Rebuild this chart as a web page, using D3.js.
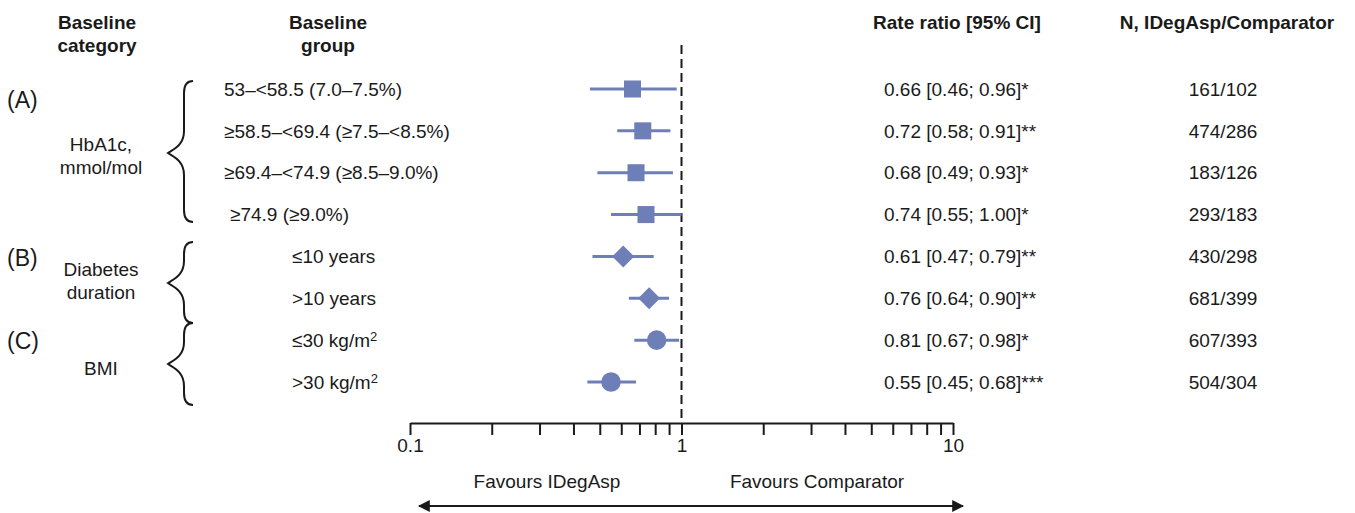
<!DOCTYPE html>
<html>
<head>
<meta charset="utf-8">
<script src="https://cdn.jsdelivr.net/npm/d3@7"></script>
<style>
  body { margin: 0; background: #fff; }
  svg { font-family: "Liberation Sans", Arial, sans-serif; }
</style>
</head>
<body>
<svg id="chart" width="1355" height="513"></svg>
<script>
// ---- data ----
const groupLabels = [
  '53–<58.5 (7.0–7.5%)',
  '≥58.5–<69.4 (≥7.5–<8.5%)',
  '≥69.4–<74.9 (≥8.5–9.0%)',
  '≥74.9 (≥9.0%)',
  '≤10 years',
  '>10 years',
  '≤30 kg/m|2',
  '>30 kg/m|2',
];
const rateRatios = [0.66, 0.72, 0.68, 0.74, 0.61, 0.76, 0.81, 0.55];
const ciLower = [0.46, 0.58, 0.49, 0.55, 0.47, 0.64, 0.67, 0.45];
const ciUpper = [0.96, 0.91, 0.93, 1.00, 0.79, 0.90, 0.98, 0.68];
const stars = ['*', '**', '*', '*', '**', '**', '*', '***'];
const nCounts = ['161/102', '474/286', '183/126', '293/183', '430/298', '681/399', '607/393', '504/304'];
const markerShapes = ['square', 'square', 'square', 'square', 'diamond', 'diamond', 'circle', 'circle'];

const categories = [
  { tag: '(A)', label: ['HbA1c,', 'mmol/mol'], rows: [0, 3] },
  { tag: '(B)', label: ['Diabetes', 'duration'], rows: [4, 5] },
  { tag: '(C)', label: ['BMI'], rows: [6, 7] },
];
const tickValues = [0.1, 1, 10];

// ---- layout ----
const svg = d3.select('#chart');
const color = '#6e7fb8';
const ink = '#1a1a1a';
const fontSize = 19;

const x = d3.scaleLog().domain([0.1, 10]).range([410, 953]);
const y = d3.scaleLinear().domain([0, 7]).range([89, 382]);
const axisY = 423;

// headers
const headers = [
  { x: 97, lines: ['Baseline', 'category'] },
  { x: 328, lines: ['Baseline', 'group'] },
  { x: 957, lines: ['Rate ratio [95% CI]'] },
  { x: 1227, lines: ['N, IDegAsp/Comparator'] },
];
headers.forEach((h) => {
  h.lines.forEach((line, i) => {
    svg.append('text')
      .attr('x', h.x)
      .attr('y', 29 + i * 23)
      .attr('text-anchor', 'middle')
      .attr('font-weight', 'bold')
      .attr('font-size', 19)
      .attr('fill', ink)
      .text(line);
  });
});

// category tags, labels and braces
const braceSpans = [[81, 222, 153], [242, 323, 283], [323, 405, 364]];
const labelCenters = [156, 281, 368];
const tagCenters = [100, 258, 341];
categories.forEach((c, ci) => {
  svg.append('text')
    .attr('x', 7)
    .attr('y', tagCenters[ci])
    .attr('dy', '0.35em')
    .attr('font-size', 23)
    .attr('fill', ink)
    .text(c.tag);

  const labelY = labelCenters[ci] - (c.label.length - 1) * 11.5;
  c.label.forEach((l, i) => {
    svg.append('text')
      .attr('x', 101)
      .attr('y', labelY + i * 23)
      .attr('dy', '0.35em')
      .attr('text-anchor', 'middle')
      .attr('font-size', fontSize)
      .attr('fill', ink)
      .text(l);
  });

  // curly brace
  const [t, b, m] = braceSpans[ci];
  const xr = 193;
  const xm = 184;
  const xl = 168;
  const p = d3.path();
  p.moveTo(xr, t);
  p.quadraticCurveTo(xm, t, xm, t + 12);
  p.lineTo(xm, m - 22);
  p.bezierCurveTo(xm, m - 8, xl + 6, m - 4, xl, m);
  p.bezierCurveTo(xl + 6, m + 4, xm, m + 8, xm, m + 22);
  p.lineTo(xm, b - 12);
  p.quadraticCurveTo(xm, b, xr, b);
  svg.append('path')
    .attr('d', p.toString())
    .attr('fill', 'none')
    .attr('stroke', ink)
    .attr('stroke-width', 2);
});

// group labels
const labelX = (i) => (i < 3 ? 224 : i === 3 ? 230 : 292);
groupLabels.forEach((g, i) => {
  const parts = g.split('|');
  const t = svg.append('text')
    .attr('x', labelX(i))
    .attr('y', y(i))
    .attr('dy', '0.35em')
    .attr('font-size', fontSize)
    .attr('fill', ink);
  t.append('tspan').text(parts[0]);
  if (parts[1]) {
    t.append('tspan').attr('font-size', 13).attr('dy', '-0.45em').text(parts[1]);
  }
});

// reference line at 1
svg.append('line')
  .attr('x1', x(1)).attr('x2', x(1))
  .attr('y1', 45).attr('y2', axisY)
  .attr('stroke', ink)
  .attr('stroke-width', 2)
  .attr('stroke-dasharray', '9,5');

// CI lines
svg.selectAll('.ci')
  .data(rateRatios)
  .join('line')
  .attr('class', 'ci')
  .attr('x1', (d, i) => x(ciLower[i]))
  .attr('x2', (d, i) => x(ciUpper[i]))
  .attr('y1', (d, i) => y(i))
  .attr('y2', (d, i) => y(i))
  .attr('stroke', color)
  .attr('stroke-width', 3);

// markers (diamond = square turned 45°)
const symbolType = { square: d3.symbolSquare, diamond: d3.symbolSquare, circle: d3.symbolCircle };
const symbolSize = { square: 290, diamond: 240, circle: 300 };
svg.selectAll('.marker')
  .data(rateRatios)
  .join('path')
  .attr('class', 'marker')
  .attr('transform', (d, i) => `translate(${x(d)},${y(i)})` + (markerShapes[i] === 'diamond' ? ' rotate(45)' : ''))
  .attr('d', (d, i) => d3.symbol().type(symbolType[markerShapes[i]]).size(symbolSize[markerShapes[i]])())
  .attr('fill', color);

// rate ratio text and counts
svg.selectAll('.rr')
  .data(rateRatios)
  .join('text')
  .attr('class', 'rr')
  .attr('x', 884)
  .attr('y', (d, i) => y(i))
  .attr('dy', '0.35em')
  .attr('font-size', fontSize)
  .attr('fill', ink)
  .text((d, i) => `${d.toFixed(2)} [${ciLower[i].toFixed(2)}; ${ciUpper[i].toFixed(2)}]${stars[i]}`);

svg.selectAll('.n')
  .data(nCounts)
  .join('text')
  .attr('class', 'n')
  .attr('x', 1223)
  .attr('y', (d, i) => y(i))
  .attr('dy', '0.35em')
  .attr('text-anchor', 'middle')
  .attr('font-size', fontSize)
  .attr('fill', ink)
  .text((d) => d);

// axis
const axis = d3.axisBottom(x)
  .tickValues(d3.range(1, 10).map((k) => k * 0.1).concat(d3.range(1, 10)).concat([10]))
  .tickSize(12)
  .tickSizeOuter(0)
  .tickFormat((d) => (tickValues.some((v) => Math.abs(v - d) < 1e-9) ? d3.format('~g')(d) : ''));
const gAxis = svg.append('g')
  .attr('transform', `translate(0,${axisY})`)
  .call(axis);
gAxis.select('.domain').attr('stroke', ink).attr('stroke-width', 2);
gAxis.selectAll('.tick line').attr('stroke', ink).attr('stroke-width', 2);
gAxis.selectAll('.tick text')
  .attr('font-size', fontSize)
  .attr('fill', ink)
  .attr('y', 16)
  .attr('font-family', '"Liberation Sans", Arial, sans-serif');

// favours labels
svg.append('text')
  .attr('x', 547).attr('y', 481).attr('dy', '0.35em')
  .attr('text-anchor', 'middle').attr('font-size', fontSize).attr('fill', ink)
  .text('Favours IDegAsp');
svg.append('text')
  .attr('x', 817).attr('y', 481).attr('dy', '0.35em')
  .attr('text-anchor', 'middle').attr('font-size', fontSize).attr('fill', ink)
  .text('Favours Comparator');

// double arrow
const defs = svg.append('defs');
defs.append('marker')
  .attr('id', 'arrow')
  .attr('viewBox', '0 0 10 10')
  .attr('refX', 9).attr('refY', 5)
  .attr('markerWidth', 6).attr('markerHeight', 6)
  .attr('markerUnits', 'strokeWidth')
  .attr('orient', 'auto-start-reverse')
  .append('path')
  .attr('d', 'M0,0L10,5L0,10Z')
  .attr('fill', ink);
svg.append('line')
  .attr('x1', 419).attr('x2', 963)
  .attr('y1', 506).attr('y2', 506)
  .attr('stroke', ink)
  .attr('stroke-width', 2)
  .attr('marker-start', 'url(#arrow)')
  .attr('marker-end', 'url(#arrow)');
</script>
</body>
</html>
